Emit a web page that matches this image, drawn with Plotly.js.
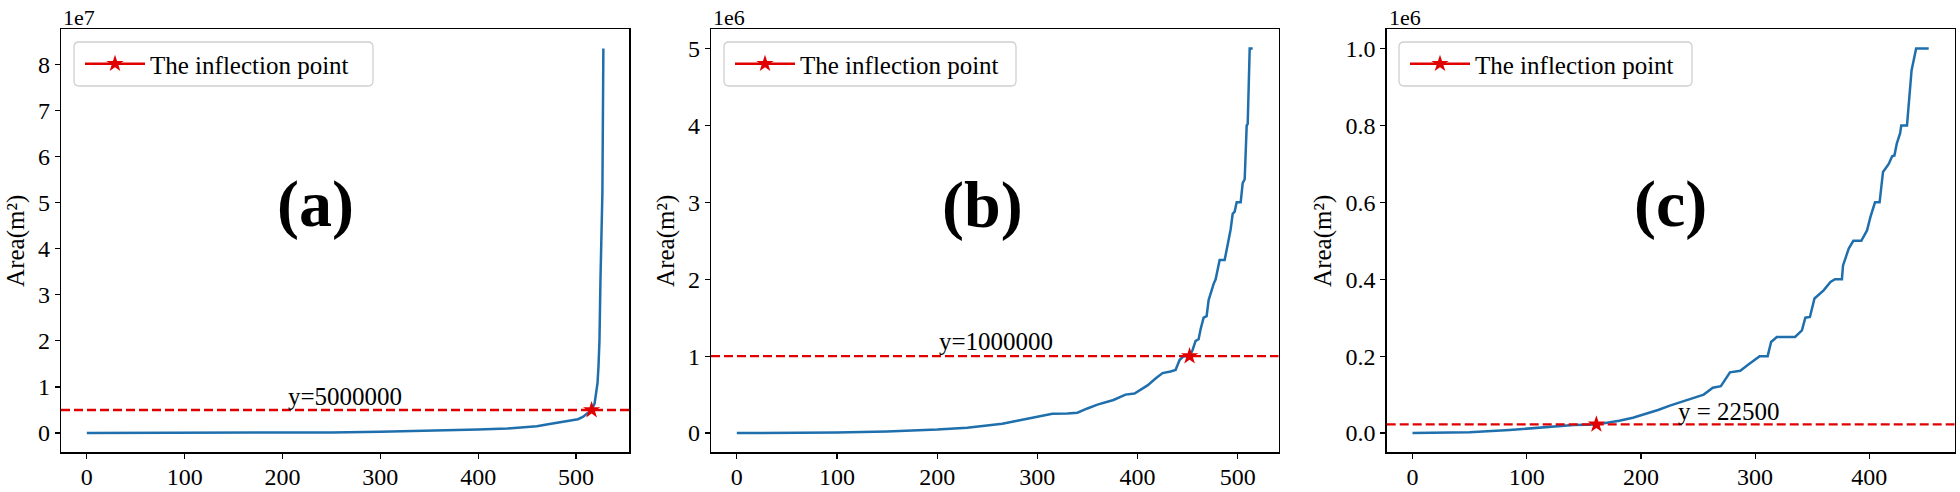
<!DOCTYPE html>
<html>
<head>
<meta charset="utf-8">
<script src="https://cdn.plot.ly/plotly-3.0.1.min.js"></script>
<style>
  html, body { margin: 0; padding: 0; background: #ffffff; }
  #chart { width: 1960px; height: 492px; }
</style>
</head>
<body>
<div id="chart"></div>
<script>
// ---------------- data ----------------
// Panel (a): sorted areas, index 0..528
const xA = [0, 100, 200, 250, 300, 350, 400, 430, 445, 460, 470, 478, 488, 497, 502, 507, 512, 516, 519, 521, 522, 523, 524, 525, 526, 527, 528];
const yA = [0, 10000, 80000, 150000, 280000, 450000, 750000, 1000000, 1200000, 1500000, 1850000, 2100000, 2450000, 2800000, 3000000, 3500000, 4300000, 5000000, 6400000, 10000000, 10800000, 14400000, 20000000, 33000000, 45000000, 52000000, 83400000];

// Panel (b): sorted areas, index 0..515
const xB = [0, 50, 100, 150, 200, 230, 250, 265, 280, 292, 305, 315, 330, 340, 350, 360, 376, 388, 397, 410, 418, 425, 433, 438, 442, 446, 452, 455, 458, 461, 463, 466, 469, 471, 476, 478, 482, 487, 490, 493, 495, 497, 499, 503, 505, 507, 509, 510, 512, 515];
const yB = [0, 2000, 8000, 20000, 45000, 70000, 100000, 120000, 160000, 190000, 220000, 250000, 255000, 265000, 320000, 370000, 430000, 500000, 515000, 620000, 710000, 780000, 800000, 820000, 950000, 1000000, 1000000, 1080000, 1200000, 1220000, 1350000, 1500000, 1520000, 1730000, 1940000, 2000000, 2250000, 2250000, 2450000, 2650000, 2850000, 2880000, 3000000, 3000000, 3250000, 3300000, 4000000, 4020000, 5000000, 5000000];

// Panel (c): sorted areas, index 0..452
const xC = [0, 50, 85, 105, 122, 141, 161, 181, 193, 204, 215, 226, 237, 248, 255, 263, 270, 278, 287, 295, 304, 311, 314, 319, 335, 341, 344, 348, 352, 360, 366, 370, 376, 377, 382, 386, 393, 398, 401, 405, 409, 412, 417, 420, 422, 424, 427, 428, 433, 437, 441, 452];
const yC = [0, 2000, 8000, 12000, 16000, 21000, 22500, 32000, 40000, 50000, 60000, 72000, 82000, 94000, 100000, 118000, 122000, 158000, 162000, 180000, 200000, 200000, 237000, 250000, 250000, 267000, 300000, 302000, 350000, 371000, 393000, 400000, 400000, 436000, 480000, 500000, 500000, 527000, 562000, 600000, 600000, 679000, 700000, 720000, 722000, 752000, 780000, 800000, 800000, 943000, 1000000, 1000000];

// thresholds / inflection points
const thresholds = [5000000, 1000000, 22500];
const inflectionX = [516, 452, 161];
const thresholdLabels = ['y=5000000', 'y=1000000', 'y = 22500'];
const thresholdLabelX = [204, 200, 231];
const thresholdLabelY = [6000000, 1080000, 33800];

const panelLabels = ['(a)', '(b)', '(c)'];
const panelLabelX = [234, 245, 226];
const panelLabelY = [49600000, 2970000, 595000];

const offsetLabels = ['1e7', '1e6', '1e6'];
const legendName = 'The inflection point';
const yTitle = 'Area(m²)';

const xTickVals = [[0, 100, 200, 300, 400, 500], [0, 100, 200, 300, 400, 500], [0, 100, 200, 300, 400]];
const xTickText = [['0', '100', '200', '300', '400', '500'], ['0', '100', '200', '300', '400', '500'], ['0', '100', '200', '300', '400']];
const yTickVals = [
  [0, 10000000, 20000000, 30000000, 40000000, 50000000, 60000000, 70000000, 80000000],
  [0, 1000000, 2000000, 3000000, 4000000, 5000000],
  [0, 200000, 400000, 600000, 800000, 1000000]
];
const yTickText = [
  ['0', '1', '2', '3', '4', '5', '6', '7', '8'],
  ['0', '1', '2', '3', '4', '5'],
  ['0.0', '0.2', '0.4', '0.6', '0.8', '1.0']
];

// ---------------- layout geometry ----------------
const W = 1960, H = 492;
const FONT = 'Liberation Serif, Times New Roman, serif';
const BLUE = '#1f6fad';
const RED = '#e00000';

const seriesX = [xA, xB, xC];
const seriesY = [yA, yB, yC];
const xDomains = [[61 / W, 629.2 / W], [711 / W, 1278.5 / W], [1386.7 / W, 1954.5 / W]];
const yDomain = [1 - 452.3 / H, 1 - 29.3 / H];
// legend frame boxes in pixels: [left, right]
const legendBoxX = [[74, 373], [724, 1016], [1399, 1692]];
const legendBoxY = [42, 86];

function paddedRange(arr) {
  const lo = Math.min.apply(null, arr), hi = Math.max.apply(null, arr);
  const pad = (hi - lo) * 0.05;
  return [lo - pad, hi + pad];
}
function px2x(p) { return p / W; }
function px2y(p) { return 1 - p / H; }
function roundedRect(x0, x1, y0, y1, r) {
  const X = px2x, Y = px2y;
  return 'M' + X(x0 + r) + ',' + Y(y0) +
    ' L' + X(x1 - r) + ',' + Y(y0) +
    ' Q' + X(x1) + ',' + Y(y0) + ' ' + X(x1) + ',' + Y(y0 + r) +
    ' L' + X(x1) + ',' + Y(y1 - r) +
    ' Q' + X(x1) + ',' + Y(y1) + ' ' + X(x1 - r) + ',' + Y(y1) +
    ' L' + X(x0 + r) + ',' + Y(y1) +
    ' Q' + X(x0) + ',' + Y(y1) + ' ' + X(x0) + ',' + Y(y1 - r) +
    ' L' + X(x0) + ',' + Y(y0 + r) +
    ' Q' + X(x0) + ',' + Y(y0) + ' ' + X(x0 + r) + ',' + Y(y0) + ' Z';
}

const traces = [];
const layout = {
  width: W, height: H,
  margin: {l: 0, r: 0, t: 0, b: 0},
  paper_bgcolor: '#ffffff',
  plot_bgcolor: '#ffffff',
  font: {family: FONT, size: 25, color: '#000000'},
  showlegend: true,
  shapes: [],
  annotations: []
};

for (let i = 0; i < 3; i++) {
  const sfx = i === 0 ? '' : String(i + 1);
  const xa = 'x' + sfx, ya = 'y' + sfx;
  const legendId = 'legend' + sfx;

  traces.push({
    type: 'scatter', mode: 'lines',
    x: seriesX[i], y: seriesY[i],
    xaxis: xa, yaxis: ya,
    line: {color: BLUE, width: 2.5},
    showlegend: false, hoverinfo: 'x+y'
  });
  traces.push({
    type: 'scatter', mode: 'lines+markers',
    x: [inflectionX[i]], y: [thresholds[i]],
    xaxis: xa, yaxis: ya,
    name: legendName,
    legend: legendId,
    line: {color: RED, width: 2.5},
    marker: {symbol: 'star', size: 13, color: RED, line: {width: 0}},
    showlegend: true
  });

  const axCommon = {
    showline: true, linecolor: '#000000', linewidth: 1.3, mirror: true,
    ticks: 'outside', ticklen: 5, tickwidth: 1.2, tickcolor: '#000000',
    showgrid: false, zeroline: false,
    tickfont: {family: FONT, size: 24, color: '#000000'},
    tickmode: 'array'
  };
  layout['xaxis' + sfx] = Object.assign({}, axCommon, {
    domain: xDomains[i], anchor: ya,
    range: paddedRange(seriesX[i]),
    tickvals: xTickVals[i], ticktext: xTickText[i],
    ticklabelstandoff: -2
  });
  layout['yaxis' + sfx] = Object.assign({}, axCommon, {
    domain: yDomain, anchor: xa,
    range: paddedRange(seriesY[i]),
    tickvals: yTickVals[i], ticktext: yTickText[i],
    title: {text: yTitle, font: {family: FONT, size: 25, color: '#000000'}, standoff: 6},
    automargin: false
  });

  // legend frame (rounded, light grey) drawn as a shape; plotly legend on top of it
  layout.shapes.push({
    type: 'path', xref: 'paper', yref: 'paper', layer: 'above',
    path: roundedRect(legendBoxX[i][0], legendBoxX[i][1], legendBoxY[0], legendBoxY[1], 5),
    fillcolor: 'rgba(255,255,255,0.85)', line: {color: '#d0d0d0', width: 1.3}
  });
  layout[legendId] = {
    x: px2x(legendBoxX[i][0] + 6), y: px2y((legendBoxY[0] + legendBoxY[1]) / 2),
    xanchor: 'left', yanchor: 'middle',
    xref: 'paper', yref: 'paper',
    bgcolor: 'rgba(0,0,0,0)', borderwidth: 0,
    font: {family: FONT, size: 25, color: '#000000'},
    itemwidth: 60
  };

  // horizontal dashed threshold line across the whole axes
  layout.shapes.push({
    type: 'line', xref: xa + ' domain', yref: ya,
    x0: 0, x1: 1, y0: thresholds[i], y1: thresholds[i],
    line: {color: RED, width: 2.3, dash: '9px,4px'}
  });

  // threshold text
  layout.annotations.push({
    xref: xa, yref: ya, x: thresholdLabelX[i], y: thresholdLabelY[i],
    xanchor: 'left', yanchor: 'bottom', yshift: -7,
    text: thresholdLabels[i], showarrow: false,
    font: {family: FONT, size: 25, color: '#000000'}
  });
  // panel label
  layout.annotations.push({
    xref: xa, yref: ya, x: panelLabelX[i], y: panelLabelY[i],
    xanchor: 'center', yanchor: 'middle',
    text: '<b>' + panelLabels[i] + '</b>', showarrow: false,
    font: {family: FONT, size: 66, color: '#000000'}
  });
  // offset text (1e7 / 1e6)
  layout.annotations.push({
    xref: 'paper', yref: 'paper', x: xDomains[i][0], y: yDomain[1],
    xanchor: 'left', yanchor: 'bottom', yshift: -3,
    text: offsetLabels[i], showarrow: false,
    font: {family: FONT, size: 22, color: '#000000'}
  });
}

Plotly.newPlot('chart', traces, layout, {displayModeBar: false, staticPlot: true});
</script>
</body>
</html>
